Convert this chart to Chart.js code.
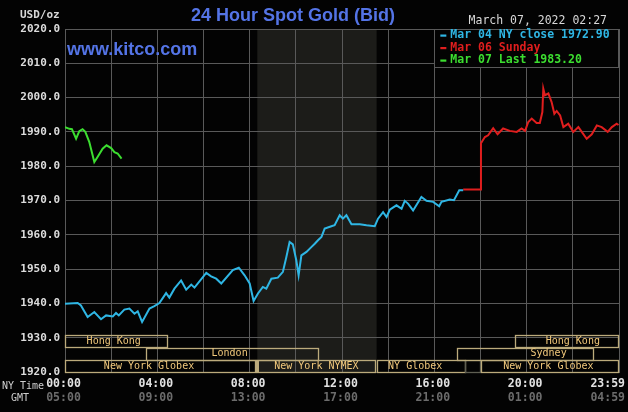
<!DOCTYPE html>
<html><head><meta charset="utf-8">
<script src="https://cdn.jsdelivr.net/npm/chart.js@4"></script>
<style>html,body{margin:0;padding:0;background:#000;overflow:hidden}canvas{display:block}</style>
</head><body>
<canvas id="c" width="628" height="412"></canvas>
<script>
// ---- data (hours since 00:00 NY time, USD/oz) ----
const nyCloseTimes = [0,0.55,0.69,0.98,1.27,1.56,1.78,2.07,2.21,2.33,2.57,2.79,3.01,3.15,3.34,3.66,3.87,4.09,4.38,4.52,4.74,5.03,5.25,5.47,5.61,6.12,6.33,6.55,6.77,7.27,7.53,7.78,8.0,8.17,8.36,8.57,8.72,8.94,9.22,9.44,9.59,9.73,9.87,10.02,10.12,10.24,10.46,10.67,10.82,10.96,11.11,11.25,11.54,11.68,11.9,12.04,12.19,12.41,12.77,13.06,13.42,13.56,13.78,13.93,14.07,14.36,14.58,14.72,14.86,15.08,15.44,15.66,15.95,16.21,16.31,16.67,16.85,17.08,17.25];
const nyCloseValues = [1939.9,1940.1,1939.4,1936.0,1937.5,1935.4,1936.5,1936.2,1937.2,1936.5,1938.2,1938.5,1937.0,1937.7,1934.6,1938.5,1939.2,1940.1,1943.0,1941.7,1944.3,1946.7,1944.0,1945.5,1944.6,1948.9,1947.9,1947.2,1945.8,1949.7,1950.4,1948.2,1945.8,1940.7,1942.9,1944.8,1944.3,1947.2,1947.5,1949.2,1953.5,1957.9,1957.2,1952.6,1948.2,1954.0,1955.0,1956.4,1957.4,1958.4,1959.4,1961.8,1962.5,1962.8,1965.7,1964.7,1965.7,1963.1,1963.1,1962.8,1962.5,1964.7,1966.6,1965.2,1967.3,1968.6,1967.6,1969.9,1969.1,1967.1,1971.0,1969.9,1969.6,1968.3,1969.6,1970.3,1970.1,1973.0,1973.0];
const sundayTimes = [17.25,17.98,18.02,18.19,18.33,18.55,18.74,18.98,19.27,19.57,19.78,19.93,20.07,20.22,20.43,20.57,20.68,20.72,20.79,20.94,21.08,21.2,21.3,21.45,21.59,21.8,22.02,22.24,22.6,22.82,23.04,23.25,23.51,23.69,23.9,23.98];
const sundayValues = [1973.2,1973.2,1986.7,1988.5,1989.0,1991.1,1989.3,1991.0,1990.3,1990.0,1991.0,1990.3,1992.9,1993.9,1992.6,1992.6,1995.8,2002.6,2000.7,2001.2,1998.7,1995.3,1996.1,1994.8,1991.4,1992.4,1990.0,1991.4,1988.0,1989.3,1991.9,1991.4,1990.0,1991.4,1992.4,1992.0];
const lastTimes = [0,0.19,0.3,0.48,0.62,0.76,0.88,1.05,1.27,1.41,1.63,1.8,2.0,2.14,2.28,2.45];
const lastValues = [1991.4,1990.9,1990.8,1988.0,1990.2,1990.8,1990.0,1987.1,1981.2,1982.7,1985.1,1986.1,1985.3,1984.1,1983.7,1982.2];
const seriesLabels = ['Mar 04 NY close 1972.90','Mar 06 Sunday','Mar 07 Last 1983.20'];

const yMin = 1920, yMax = 2020, yStep = 10;
const nyTimeHours = [0,4,8,12,16,20,24];
const nyTimeLabels = ['00:00','04:00','08:00','12:00','16:00','20:00','23:59'];
const gmtLabels = ['05:00','09:00','13:00','17:00','21:00','01:00','04:59'];
const nymexWindow = [8.33, 13.5];

const sessionNames = ['Hong Kong','London','New York Globex','New York NYMEX','NY Globex','','New York Globex','Sydney','Hong Kong'];
const sessionStart = [0,3.5,0,8.28,13.5,17.34,18.02,17.0,19.5];
const sessionEnd   = [4.45,11,8.28,13.5,17.34,18.02,24,22.93,24];
const sessionRow   = [0,1,2,2,2,2,2,1,0];
const sessionLabelAt = [2.11,7.13,3.64,10.89,15.17,null,20.94,20.95,22.0];

// ---- style ----
const BG='#030303', GRID='#595959', SHADE='#1c1c19';
const BLUE='#2fb6e4', RED='#e01e1e', GREEN='#3cde30';
const MONO='"DejaVu Sans Mono", monospace';
const SANS='"Liberation Sans", Arial, sans-serif';
const TITLEBLUE='#5474e6';

const pts = (t,v)=>t.map((h,i)=>({x:h,y:v[i]}));

const decor = {
  id:'decor',
  beforeDraw(chart){
    const {ctx, chartArea:a, scales:{x}} = chart;
    ctx.save();
    ctx.fillStyle=BG; ctx.fillRect(0,0,chart.width,chart.height);
    const x0=x.getPixelForValue(nymexWindow[0]), x1=x.getPixelForValue(nymexWindow[1]);
    ctx.fillStyle=SHADE; ctx.fillRect(x0,a.top,x1-x0,a.bottom-a.top);
    ctx.restore();
  },
  afterDraw(chart){
    const {ctx, chartArea:a, scales:{x}} = chart;
    ctx.save();
    // sessions
    const rh=12.6;
    ctx.font='10px '+MONO; ctx.textAlign='center'; ctx.textBaseline='middle';
    sessionNames.forEach((n,i)=>{
      const x0=x.getPixelForValue(sessionStart[i]), x1=x.getPixelForValue(sessionEnd[i]);
      const top=a.bottom-(3-sessionRow[i])*rh+0.8;
      ctx.lineWidth=1.3;
      ctx.strokeStyle = n ? '#bcab7c' : '#5e5e52';
      ctx.strokeRect(Math.round(x0)+0.5,Math.round(top)+0.5,Math.round(x1-x0)-1,Math.round(rh)-1);
      if(n==='New York NYMEX'){ctx.fillStyle='#bcab7c';ctx.fillRect(Math.round(x0),Math.round(top),3,Math.round(rh));}
      if(n){ctx.fillStyle='#f2c97c'; ctx.fillText(n,x.getPixelForValue(sessionLabelAt[i]),top+rh/2);}
    });
    // legend box
    const lx=x.getPixelForValue(16);
    ctx.fillStyle=BG; ctx.fillRect(lx,a.top,a.right-lx,38);
    ctx.strokeStyle=GRID; ctx.lineWidth=1; ctx.strokeRect(Math.round(lx)+0.5,Math.round(a.top)+0.5,Math.round(a.right-lx)-1,38);
    ctx.font='bold 11.5px '+MONO; ctx.textAlign='left'; ctx.textBaseline='middle';
    chart.data.datasets.forEach((d,i)=>{
      const yy=a.top+6.5+i*12.5;
      ctx.fillStyle=d.borderColor;
      ctx.fillRect(lx+6,yy-1,6,2.2);
      ctx.fillText(d.label,lx+16,yy);
    });
    // header texts
    ctx.fillStyle=TITLEBLUE; ctx.font='bold 18px '+SANS; ctx.textAlign='center'; ctx.textBaseline='middle';
    ctx.fillText('24 Hour Spot Gold (Bid)',293,16);
    ctx.textAlign='left';
    ctx.fillText('www.kitco.com',a.left+2,50);
    ctx.fillStyle='#d8d8d8'; ctx.font='11.5px '+MONO; ctx.textAlign='right';
    ctx.fillText('March 07, 2022 02:27',607,21);
    ctx.font='bold 11px '+MONO; ctx.textAlign='left';
    ctx.fillText('USD/oz',20,15);
    // time labels
    ctx.font='10px '+MONO; ctx.fillStyle='#cfcfcf'; ctx.textAlign='left';
    ctx.fillText('NY Time',2,386);
    ctx.fillText('GMT',11,398.5);
    ctx.font='bold 11.5px '+MONO;
    nyTimeHours.forEach((h,i)=>{
      const px=x.getPixelForValue(h);
      if(h===24){ctx.textAlign='right';} else {ctx.textAlign='center';}
      const tx = h===24 ? px+6 : px-1.5;
      ctx.fillStyle='#e2e2e2'; ctx.fillText(nyTimeLabels[i],tx,384);
      ctx.fillStyle='#6c6c6c'; ctx.fillText(gmtLabels[i],tx,398);
    });
    ctx.restore();
  }
};

new Chart(document.getElementById('c'),{
  type:'line',
  data:{datasets:[
    {label:seriesLabels[0],data:pts(nyCloseTimes,nyCloseValues),borderColor:BLUE,borderWidth:2},
    {label:seriesLabels[1],data:pts(sundayTimes,sundayValues),borderColor:RED,borderWidth:2},
    {label:seriesLabels[2],data:pts(lastTimes,lastValues),borderColor:GREEN,borderWidth:2}
  ]},
  options:{
    responsive:false, animation:false, devicePixelRatio:1,
    parsing:true,
    elements:{point:{radius:0},line:{tension:0}},
    layout:{padding:{top:29,right:9,left:0,bottom:0}},
    plugins:{legend:{display:false},tooltip:{enabled:false},title:{display:false}},
    scales:{
      x:{type:'linear',min:0,max:24,
         ticks:{display:false,stepSize:2},
         grid:{color:GRID,lineWidth:1,drawTicks:false},
         border:{color:GRID},
         afterFit(s){s.height=40;}},
      y:{type:'linear',min:yMin,max:yMax,
         ticks:{stepSize:yStep,padding:5,color:'#dcdcdc',font:{family:MONO,size:11,weight:'bold'},
                callback:v=>v.toFixed(1)},
         grid:{color:GRID,lineWidth:1,drawTicks:false},
         border:{color:GRID},
         afterFit(s){s.width=65;}}
    }
  },
  plugins:[decor]
});
</script>
</body></html>
